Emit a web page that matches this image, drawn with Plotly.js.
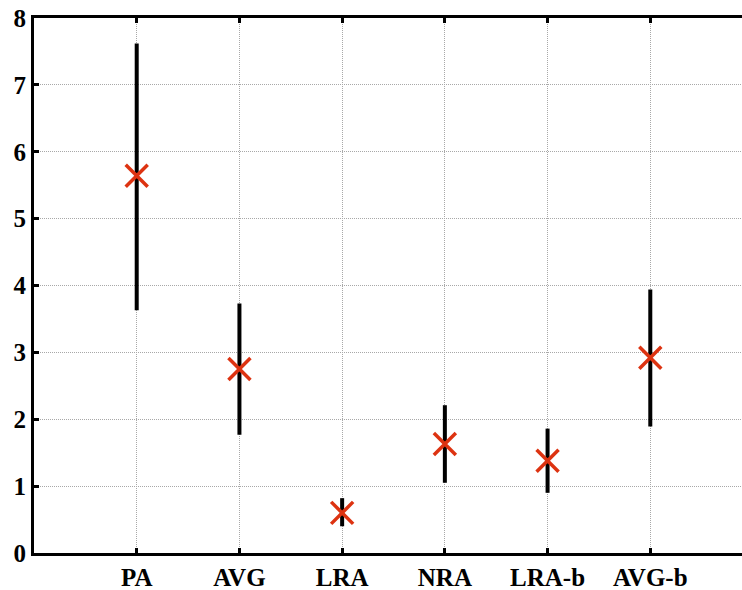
<!DOCTYPE html>
<html>
<head>
<meta charset="utf-8">
<script src="https://cdn.plot.ly/plotly-3.0.1.min.js"></script>
<style>
html,body{margin:0;padding:0;overflow:hidden;background:#fff;width:742px;height:590px;}
#chart{width:760px;height:590px;}
</style>
</head>
<body>
<div id="chart"></div>
<script>
const categories = ["PA", "AVG", "LRA", "NRA", "LRA-b", "AVG-b"];
const centerValues = [5.64, 2.75, 0.60, 1.63, 1.38, 2.92];
const upperValues = [7.62, 3.73, 0.82, 2.21, 1.86, 3.94];
const lowerValues = [3.63, 1.77, 0.40, 1.05, 0.90, 1.89];
const yTickValues = [0, 1, 2, 3, 4, 5, 6, 7, 8];

const xPos = categories.map((c, i) => i + 1);
const plus = upperValues.map((u, i) => u - centerValues[i]);
const minus = centerValues.map((c, i) => c - lowerValues[i]);

const fam = "Liberation Serif, Times New Roman, serif";
const tickFont = {family: fam, size: 25, color: "#000", weight: "bold"};

const trace = {
  type: "scatter",
  mode: "markers",
  x: xPos,
  y: centerValues,
  marker: {symbol: "x-thin-open", size: 22, color: "#dd3311", line: {width: 3.5, color: "#dd3311"}},
  error_y: {type: "data", symmetric: false, array: plus, arrayminus: minus, thickness: 4, width: 0, color: "#000"},
  hoverinfo: "skip"
};

const axisCommon = {
  ticks: "inside",
  ticklen: 5,
  tickwidth: 3,
  tickcolor: "#000",
  showline: true,
  linewidth: 3,
  linecolor: "#000",
  showgrid: true,
  gridcolor: "#a8a8a8",
  griddash: "1px,1px",
  gridwidth: 1,
  zeroline: false,
  tickfont: tickFont
};

const layout = {
  width: 760,
  height: 590,
  margin: {l: 34, r: 7, t: 18, b: 37},
  paper_bgcolor: "#fff",
  plot_bgcolor: "#fff",
  showlegend: false,
  font: {family: fam, color: "#000"},
  xaxis: Object.assign({}, axisCommon, {
    range: [0, 7],
    tickmode: "array",
    tickvals: xPos,
    ticktext: categories,
    mirror: "allticks"
  }),
  yaxis: Object.assign({}, axisCommon, {
    range: [0, 8],
    tickmode: "array",
    tickvals: yTickValues,
    ticktext: yTickValues.map(String),
    mirror: true
  })
};

Plotly.newPlot("chart", [trace], layout, {staticPlot: true, displayModeBar: false});
</script>
</body>
</html>
